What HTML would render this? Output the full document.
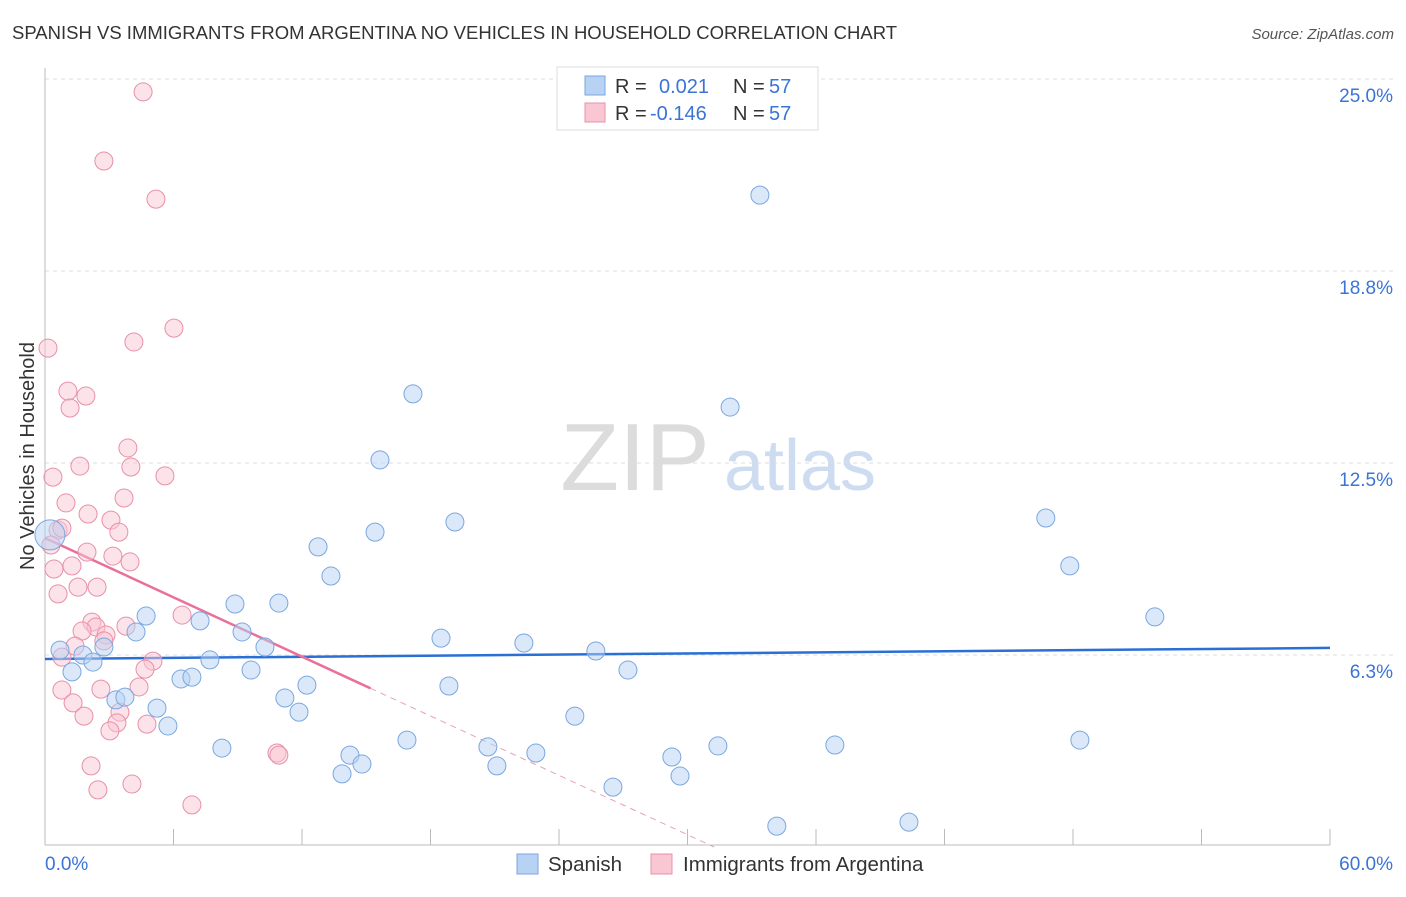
<!DOCTYPE html>
<html><head><meta charset="utf-8"><style>
body{margin:0;background:#fff;font-family:"Liberation Sans",sans-serif;}
svg text{font-family:"Liberation Sans",sans-serif;}
</style></head><body>
<svg id="chart" width="1406" height="892" viewBox="0 0 1406 892" xmlns="http://www.w3.org/2000/svg">
<text x="12" y="39" font-size="18.5" fill="#333">SPANISH VS IMMIGRANTS FROM ARGENTINA NO VEHICLES IN HOUSEHOLD CORRELATION CHART</text>
<text x="1394" y="39" font-size="15" fill="#555" font-style="italic" text-anchor="end">Source: ZipAtlas.com</text>
<text x="34" y="456" font-size="20" fill="#333" transform="rotate(-90 34 456)" text-anchor="middle">No Vehicles in Household</text>
<g>
<text x="635" y="490" font-size="96" fill="#dcdcdc" font-family="Liberation Serif" text-anchor="middle">ZIP</text>
<text x="800" y="490" font-size="72" fill="#cddcf0" text-anchor="middle">atlas</text>
</g>
<g id="grid"></g><g id="axes"></g><g id="trend"></g><g id="points"></g>
<g>
<rect x="557" y="67" width="261" height="63" fill="#fff" stroke="#ddd"/>
<rect x="585" y="76" width="20" height="19" fill="#b8d2f4" stroke="#7aa7e0"/>
<rect x="585" y="103" width="20" height="19" fill="#f9c6d3" stroke="#e890a8"/>
<text x="615" y="93" font-size="20" fill="#333">R = </text><text x="659" y="93" font-size="20" fill="#3b74d6">0.021</text>
<text x="733" y="93" font-size="20" fill="#333">N = </text><text x="769" y="93" font-size="20" fill="#3b74d6">57</text>
<text x="615" y="120" font-size="20" fill="#333">R = </text><text x="650" y="120" font-size="20" fill="#3b74d6">-0.146</text>
<text x="733" y="120" font-size="20" fill="#333">N = </text><text x="769" y="120" font-size="20" fill="#3b74d6">57</text>
</g>
<g>
<rect x="517" y="854" width="21" height="20" fill="#b8d2f4" stroke="#7aa7e0"/>
<text x="548" y="871" font-size="20.5" fill="#333">Spanish</text>
<rect x="651" y="854" width="21" height="20" fill="#f9c6d3" stroke="#e890a8"/>
<text x="683" y="871" font-size="20.5" fill="#333">Immigrants from Argentina</text>
</g>
</svg>
<script>
const blueX=[0.23,0.70,1.26,1.77,2.24,2.75,3.31,3.73,4.25,4.72,5.23,5.74,6.35,6.86,7.24,7.70,8.26,8.87,9.20,9.62,10.27,10.92,11.20,11.86,12.23,12.75,13.35,13.87,14.24,14.80,15.41,15.64,16.90,17.18,18.49,18.86,19.14,20.68,21.10,22.36,22.92,24.74,25.72,26.52,27.22,29.27,29.65,31.42,31.99,33.38,34.17,36.88,40.34,46.73,47.85,48.32,51.82];
const blueY=[10.16,6.41,5.70,6.25,6.02,6.51,4.79,4.88,7.00,7.52,4.52,3.94,5.47,5.53,7.36,6.09,3.22,7.91,7.00,5.76,6.51,7.94,4.85,4.39,5.27,9.77,8.82,2.38,2.99,2.70,10.25,12.60,3.48,14.75,6.80,5.24,10.58,3.26,2.64,6.64,3.06,4.26,6.38,1.95,5.76,2.93,2.31,3.29,14.32,21.22,0.68,3.32,0.81,10.71,9.15,3.48,7.49];
const pinkX=[4.58,2.75,5.18,6.02,4.15,0.14,1.07,1.91,1.17,3.87,1.63,4.01,0.37,5.60,3.69,0.98,2.01,3.08,0.61,0.79,3.45,0.28,1.96,3.17,3.97,0.42,1.26,0.61,1.54,2.43,6.40,2.19,3.78,2.38,1.73,2.85,2.75,1.40,5.04,0.79,4.67,4.39,0.79,2.61,1.31,3.50,1.82,3.36,4.76,3.03,10.83,10.92,2.15,2.47,4.06,6.86];
const pinkY=[24.58,22.33,21.09,16.89,16.44,16.24,14.84,14.68,14.29,12.99,12.40,12.37,12.04,12.08,11.36,11.20,10.84,10.64,10.32,10.38,10.25,9.83,9.60,9.47,9.28,9.05,9.15,8.24,8.46,8.46,7.55,7.32,7.19,7.16,7.03,6.90,6.71,6.54,6.05,6.18,5.79,5.21,5.11,5.14,4.69,4.39,4.26,4.04,4.00,3.78,3.06,2.99,2.64,1.86,2.05,1.37];
const blueTrend=[6.12,6.48];
const pinkTrend=[10.06,-0.322];
const yTicks=[6.25,12.5,18.75,25];
const yTickLabels=["6.3%","12.5%","18.8%","25.0%"];
const xTicks=[0,6,12,18,24,30,36,42,48,54,60];
const NS="http://www.w3.org/2000/svg";
const sx=v=>45+v/60*1285;
const sy=v=>847-v/6.25*192;
function mk(tag,attrs,parent){const e=document.createElementNS(NS,tag);for(const k in attrs)e.setAttribute(k,attrs[k]);document.getElementById(parent).appendChild(e);return e;}
yTicks.forEach((t,i)=>{
  const l=mk('line',{x1:45,x2:1394,y1:sy(t),y2:sy(t),stroke:'#ddd','stroke-dasharray':'4,4'},'grid');
  
  
  const tx=mk('text',{x:1393,y:sy(t)+23,'font-size':19,fill:'#3b74d6','text-anchor':'end'},'grid');
  tx.textContent=yTickLabels[i];
  
  
});
const ax=mk('line',{x1:45,x2:1330,y1:845,y2:845,stroke:'#bbb'},'axes');


const ay=mk('line',{x1:45,x2:45,y1:68,y2:845,stroke:'#bbb'},'axes');


xTicks.forEach(t=>{
  const l=mk('line',{x1:sx(t),x2:sx(t),y1:829,y2:845,stroke:'#bbb'},'axes');
  
  
});
const xl0=mk('text',{x:45,y:870,'font-size':19,fill:'#3b74d6'},'axes');xl0.textContent='0.0%';


const xl1=mk('text',{x:1393,y:870,'font-size':19,fill:'#3b74d6','text-anchor':'end'},'axes');xl1.textContent='60.0%';


function addPts(X,Y,fill,stroke,name){X.forEach((x,i)=>{
  const r=(i===0&&name==='spanish-point')?15:9;
  const c=mk('circle',{cx:sx(x),cy:sy(Y[i]),r:r,fill:fill,'fill-opacity':0.5,stroke:stroke,'stroke-width':1},'points');
  
  
});}
addPts(pinkX,pinkY,'#f9c6d3','#e890a8','argentina-point');
addPts(blueX,blueY,'#b8d2f4','#7aa7e0','spanish-point');
const bl=mk('line',{x1:sx(0),y1:sy(blueTrend[0]),x2:sx(60),y2:sy(blueTrend[1]),stroke:'#2a6fd6','stroke-width':2.5},'trend');


const pe=15.2, pz=-pinkTrend[0]/pinkTrend[1];
const pl=mk('line',{x1:sx(0),y1:sy(pinkTrend[0]),x2:sx(pe),y2:sy(pinkTrend[0]+pinkTrend[1]*pe),stroke:'#e8709a','stroke-width':2.5},'trend');


const pd=mk('line',{x1:sx(pe),y1:sy(pinkTrend[0]+pinkTrend[1]*pe),x2:sx(pz),y2:sy(0),stroke:'#e8a0b8','stroke-width':1,'stroke-dasharray':'6,5'},'trend');


</script>
</body></html>
